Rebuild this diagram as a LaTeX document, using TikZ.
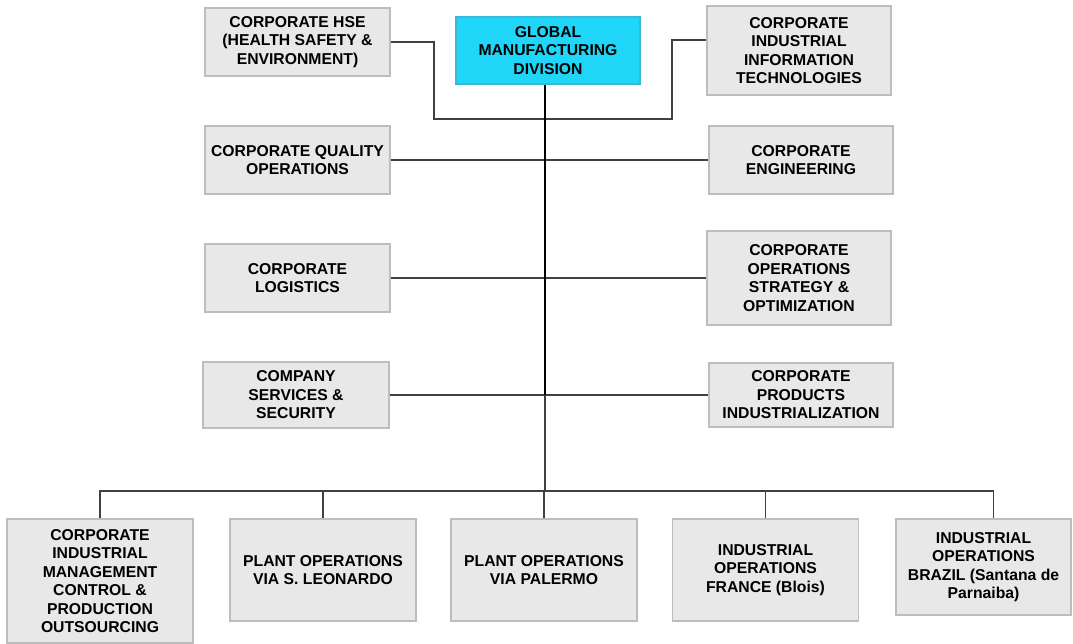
\documentclass[tikz,border=0pt]{standalone}
\usepackage{fontspec}
\setmainfont{Liberation Sans}
\usepackage{xcolor}
\usetikzlibrary{calc, positioning}

\definecolor{boxgray}{HTML}{E8E8E8}
\definecolor{boxline}{HTML}{BDBDBD}
\definecolor{headcyan}{HTML}{20D6F8}
\definecolor{headline}{HTML}{3AB8D6}

\tikzset{
    unit/.style 2 args={minimum width=#1*0.75pt, minimum height=#2*0.75pt},
    box/.style={draw=boxline, fill=boxgray, line width=0.8pt, align=center, inner sep=0pt,
        font=\bfseries\fontsize{11.8}{13.9}\selectfont},
    head/.style={box, draw=headline, fill=headcyan},
    link/.style={draw=black!75, line width=1pt},
    trunk/.style={draw=black, line width=1.9pt}
}

\begin{document}
\begin{tikzpicture}[x=0.75pt, y=-0.75pt]
    \useasboundingbox (0,0) rectangle (1073,643);

    % 1. Khối trung tâm
    \node[head, unit={184}{67}] (gmd) at (548,50.5) {GLOBAL\\MANUFACTURING\\DIVISION};

    % 2. Các khối bên trái
    \node[box, unit={185}{68}] (hse)  at (297.5,42)  {CORPORATE HSE\\(HEALTH SAFETY \&\\ENVIRONMENT)};
    \node[box, unit={185}{68}] (qual) at (297.5,160) {CORPORATE QUALITY\\OPERATIONS};
    \node[box, unit={185}{68}] (log)  at (297.5,278) {CORPORATE\\LOGISTICS};
    \node[box, unit={186}{66}] (serv) at (296,395)   {COMPANY\\SERVICES \&\\SECURITY};

    % 3. Các khối bên phải
    \node[box, unit={184}{89}] (cit)   at (799,50.5) {CORPORATE\\INDUSTRIAL\\INFORMATION\\TECHNOLOGIES};
    \node[box, unit={184}{68}] (eng)   at (801,160)  {CORPORATE\\ENGINEERING};
    \node[box, unit={184}{94}] (strat) at (799,278)  {CORPORATE\\OPERATIONS\\STRATEGY \&\\OPTIMIZATION};
    \node[box, unit={184}{64}] (prod)  at (801,395)  {CORPORATE\\PRODUCTS\\INDUSTRIALIZATION};

    % 4. Hàng khối phía dưới
    \node[box, unit={186}{124}] (b1) at (100,581)   {CORPORATE\\INDUSTRIAL\\MANAGEMENT\\CONTROL \&\\PRODUCTION\\OUTSOURCING};
    \node[box, unit={186}{102}] (b2) at (323,570)   {PLANT OPERATIONS\\VIA S. LEONARDO};
    \node[box, unit={186}{102}] (b3) at (544,570)   {PLANT OPERATIONS\\VIA PALERMO};
    \node[box, unit={186}{102}] (b4) at (765.5,570) {INDUSTRIAL\\OPERATIONS\\FRANCE (Blois)};
    \node[box, unit={175}{96}]  (b5) at (983.5,567) {INDUSTRIAL\\OPERATIONS\\BRAZIL (Santana de\\Parnaiba)};

    % 5. Đường nối
    \coordinate (hsebend) at (434,119);
    \coordinate (citbend) at (672,119);
    \coordinate (bus) at (545,491);

    \draw[link] (hse.east) -| (hsebend) -- (citbend) |- ([yshift=8pt]cit.west);
    \draw[link] (qual.east) -- (eng.west);
    \draw[link] (log.east) -- (strat.west);
    \draw[link] (serv.east) -- (prod.west);

    \draw[trunk] (gmd.south -| bus) -- (serv.east -| bus);
    \draw[link] (serv.east -| bus) -- (bus);

    \draw[link] (b1.north) -- (b1.north |- bus) -- ([xshift=7.5pt]b5.north |- bus) -- ([xshift=7.5pt]b5.north);
    \foreach \b in {b2, b3, b4}
        \draw[link] (\b.north) -- (\b.north |- bus);

\end{tikzpicture}
\end{document}
